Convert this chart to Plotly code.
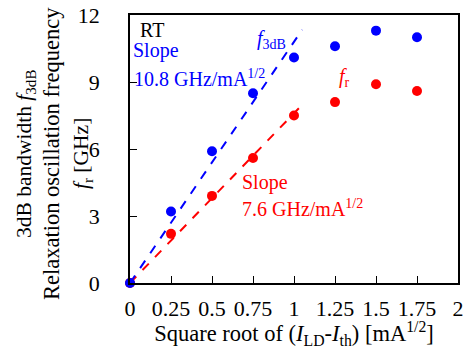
import plotly.graph_objects as go

x_vals = [0, 0.25, 0.5, 0.75, 1.0, 1.25, 1.5, 1.75]
f3db = [0, 3.2, 5.9, 8.5, 10.1, 10.6, 11.3, 11.0]
fr = [0, 2.2, 3.9, 5.6, 7.5, 8.1, 8.9, 8.6]
slope_3db = 10.8
slope_r = 7.6
fit_x = [0, 1.05]
x_ticks = [0, 0.25, 0.5, 0.75, 1, 1.25, 1.5, 1.75, 2]
x_tick_labels = ["0", "0.25", "0.5", "0.75", "1", "1.25", "1.5", "1.75", "2"]
y_ticks = [0, 3, 6, 9, 12]

BLUE = "#0000ff"
RED = "#ff0000"
FONT = "Liberation Serif, Times New Roman, serif"

fig = go.Figure()
fig.add_trace(go.Scatter(x=fit_x, y=[slope_r * v for v in fit_x], mode="lines",
                         line=dict(color=RED, width=2, dash="dash"), showlegend=False))
fig.add_trace(go.Scatter(x=fit_x, y=[slope_3db * v for v in fit_x], mode="lines",
                         line=dict(color=BLUE, width=2, dash="dash"), showlegend=False))
fig.add_trace(go.Scatter(x=x_vals, y=fr, mode="markers", cliponaxis=False,
                         marker=dict(color=RED, size=10), showlegend=False))
fig.add_trace(go.Scatter(x=x_vals, y=f3db, mode="markers", cliponaxis=False,
                         marker=dict(color=BLUE, size=10), showlegend=False))

fig.update_layout(
    width=469, height=349,
    margin=dict(l=130, r=11, t=15, b=66, autoexpand=False),
    paper_bgcolor="white", plot_bgcolor="white",
    font=dict(family=FONT, size=21, color="black"),
    xaxis=dict(range=[0, 2], tickvals=x_ticks, ticktext=x_tick_labels,
               ticks="inside", ticklen=7, tickwidth=1, tickcolor="black",
               showline=True, linecolor="black", linewidth=1.5, mirror=True,
               showgrid=False, zeroline=False, tickfont=dict(size=22, family=FONT),
               ticklabelstandoff=5,
               title=dict(text="Square root of (<i>I</i><sub>LD</sub>-<i>I</i><sub>th</sub>) [mA<sup>1/2</sup>]",
                          font=dict(size=22.5, family=FONT), standoff=5)),
    yaxis=dict(range=[0, 12], tickvals=y_ticks,
               ticks="inside", ticklen=7, tickwidth=1, tickcolor="black",
               showline=True, linecolor="black", linewidth=1.5, mirror=True,
               showgrid=False, zeroline=False, tickfont=dict(size=22, family=FONT),
               ticklabelstandoff=24),
)

ylabels = [
    ("3dB bandwidth <i>f</i><sub>3dB</sub>", 25, 21.5),
    ("Relaxation oscillation frequency", 51, 22.5),
    ("<i>f</i><sub>r</sub> [GHz]", 82, 21.5),
]
for txt, px, fs in ylabels:
    fig.add_annotation(text=txt, xref="paper", yref="paper",
                       x=(px - 130) / 328, y=(283 - 154) / 268,
                       textangle=-90, showarrow=False, xanchor="center", yanchor="middle",
                       font=dict(size=fs, family=FONT, color="black"))

notes = [
    ("RT", 0.067, 11.33, "black"),
    ("Slope", 0.024, 10.43, BLUE),
    ("10.8 GHz/mA<sup>1/2</sup>", 0.03, 9.2, BLUE),
    ("<i>f</i><sub>3dB</sub>", 0.78, 10.9, BLUE),
    ("<i>f</i><sub>r</sub>", 1.28, 9.2, RED),
    ("Slope", 0.69, 4.48, RED),
    ("7.6 GHz/mA<sup>1/2</sup>", 0.69, 3.35, RED),
]
for txt, xx, yy, col in notes:
    fig.add_annotation(text=txt, x=xx, y=yy, xref="x", yref="y", showarrow=False,
                       xanchor="left", yanchor="middle", xshift=-3,
                       font=dict(size=20, family=FONT, color=col))

fig.write_html("out.html", config={"displayModeBar": False},
               post_script="document.body.style.margin='0';")
